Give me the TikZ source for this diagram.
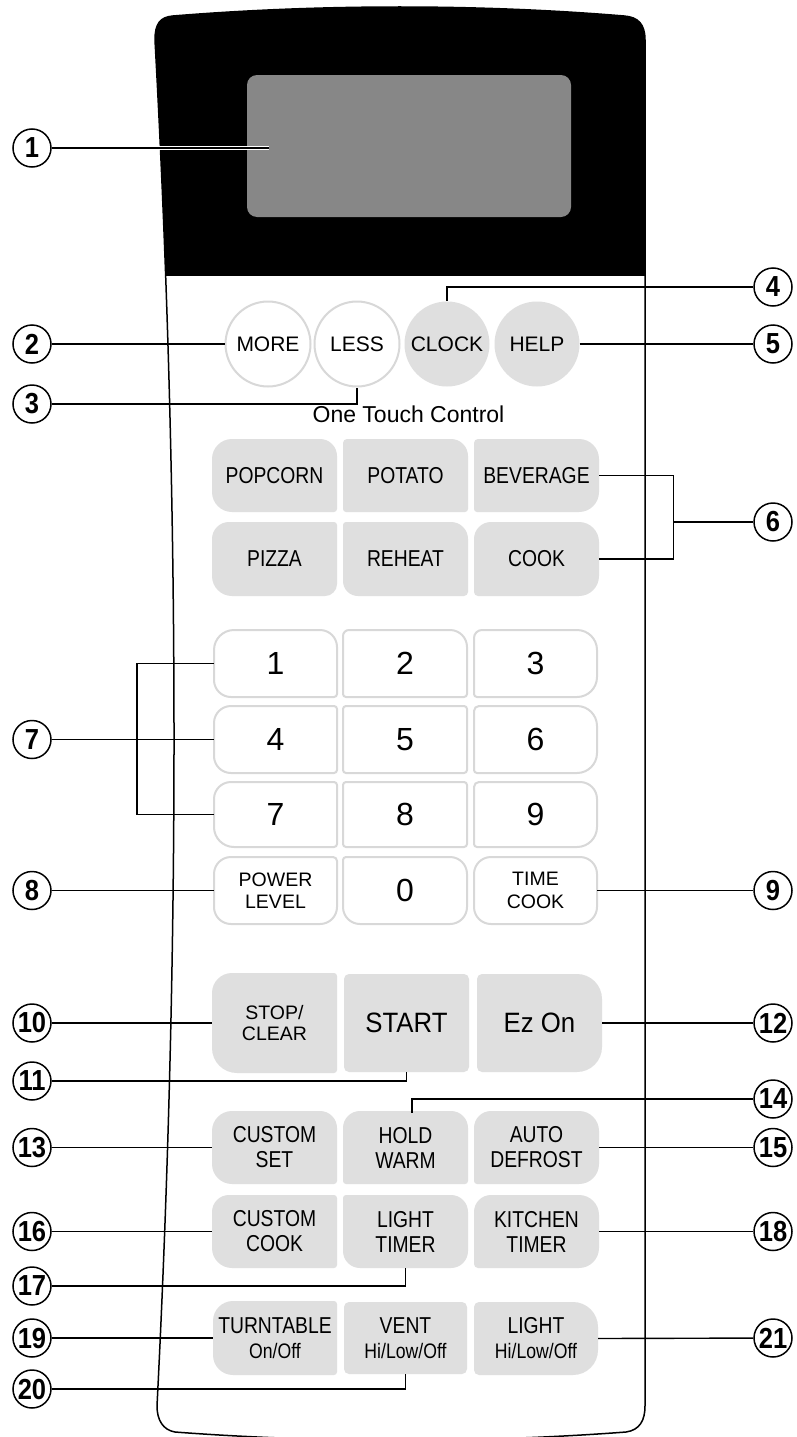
\documentclass[tikz,border=0pt]{standalone}
\usepackage{fontspec}
\setmainfont{Liberation Sans}
\newfontfamily\fN{Liberation Sans}
\newfontfamily\fC{Liberation Sans}[FakeStretch=0.84]
\newfontfamily\fD{Liberation Sans}[FakeStretch=0.92]
\newfontfamily\fB{Liberation Sans}[FakeStretch=0.88]
\definecolor{keygray}{HTML}{DFDFDF}
\definecolor{keyline}{HTML}{D8D8D8}
\definecolor{dispgray}{HTML}{878787}
\def\parseR#1,#2,#3,#4\relax{\def\rTL{#1}\def\rTR{#2}\def\rBR{#3}\def\rBL{#4}}
% #1 fill style, #2 name, #3 x1, #4 y1, #5 x2, #6 y2, #7 radii tl,tr,br,bl, #8 label style, #9 text
\newcommand\keybox[9]{%
  \parseR#7\relax
  \path[#1] (#3,{#4+\rTL}) .. controls (#3,{#4+0.448*\rTL}) and ({#3+0.448*\rTL},#4) .. ({#3+\rTL},#4)
   -- ({#5-\rTR},#4) .. controls ({#5-0.448*\rTR},#4) and (#5,{#4+0.448*\rTR}) .. (#5,{#4+\rTR})
   -- (#5,{#6-\rBR}) .. controls (#5,{#6-0.448*\rBR}) and ({#5-0.448*\rBR},#6) .. ({#5-\rBR},#6)
   -- ({#3+\rBL},#6) .. controls ({#3+0.448*\rBL},#6) and (#3,{#6-0.448*\rBL}) .. (#3,{#6-\rBL}) -- cycle;
  \node[#8, minimum width={(#5-#3)*1pt}, minimum height={(#6-#4)*1pt}] (#2) at ({(#3+#5)/2},{(#4+#6)/2}) {#9};
}
\newcommand\sm{\fontsize{21}{25}\selectfont}
\tikzset{
  graykey/.style={fill=keygray},
  whitekey/.style={fill=white, draw=keyline, line width=2pt},
  lblbase/.style={inner sep=0pt, align=center, text=black},
  lblC/.style={lblbase, font=\fC\fontsize{23}{25}\selectfont},
  lblN/.style={lblbase, font=\fN\fontsize{19.5}{22.5}\selectfont},
  lblS/.style={lblbase, font=\fN\fontsize{19.5}{21}\selectfont},
  lblD/.style={lblbase, font=\fN\fontsize{32}{32}\selectfont},
  lblB/.style={lblbase, font=\fD\fontsize{28}{28}\selectfont},
  rbtn/.style={circle, minimum size=85pt, inner sep=0pt, font=\fN\fontsize{21}{21}\selectfont},
  rbtnW/.style={rbtn, fill=white, draw=keyline, line width=2pt},
  rbtnG/.style={rbtn, fill=keygray},
  callout/.style={circle, draw=black, line width=1.5pt, fill=white, minimum size=38pt, inner sep=0pt,
    font=\fB\bfseries\fontsize{29}{29}\selectfont},
  lead/.style={draw=black, line width=1.4pt},
  panelline/.style={draw=black, line width=1.5pt},
}
\def\panelpath{(155,40) .. controls (155,24) and (160,17) .. (173,16)
  .. controls (320,4) and (480,4) .. (624,16)
  .. controls (638,17) and (645,24) .. (645,40)
  -- (645,1406) .. controls (645,1420) and (640,1430) .. (626,1432)
  .. controls (480,1443) and (320,1443) .. (175,1432)
  .. controls (163,1430) and (157,1420) .. (157,1406)
  .. controls (180,950) and (180,500) .. (155,40) -- cycle}
\begin{document}
\begin{tikzpicture}[x=1pt, y=-1pt]
\useasboundingbox (0,0) rectangle (796,1437);
\clip (0,0) rectangle (796,1437);
\fill[white] (0,0) rectangle (796,1437);
% panel body
\begin{scope}
  \clip \panelpath;
  \fill[white] (0,0) rectangle (796,1450);
  \fill[black] (0,0) rectangle (796,276);
\end{scope}
\path[panelline] \panelpath;
% display
\node[fill=dispgray, rounded corners=10pt, minimum width=324pt, minimum height=142pt, inner sep=0pt] (disp) at (409,146) {};
\coordinate (d1) at (269,148);
% round buttons
\node[rbtnW] (more) at (268,344) {MORE};
\node[rbtnW] (less) at (357,344) {LESS};
\node[rbtnG] (clock) at (447,344) {CLOCK};
\node[rbtnG] (help) at (537,344) {HELP};
\node[inner sep=0pt, font=\fN\fontsize{23}{23}\selectfont] (otc) at (408.5,414) {One Touch Control};
% one touch keys
\keybox{graykey}{pop}{212}{439}{337}{512}{20,17,3,20}{lblC}{POPCORN}
\keybox{graykey}{pot}{343}{439}{468}{512}{4,17,3,3}{lblC}{POTATO}
\keybox{graykey}{bev}{474}{439}{599}{512}{4,20,20,3}{lblC}{BEVERAGE}
\keybox{graykey}{piz}{212}{522}{337}{596}{17,3,12,20}{lblC}{PIZZA}
\keybox{graykey}{reh}{343}{522}{468}{596}{3,17,4,15}{lblC}{REHEAT}
\keybox{graykey}{cook}{474}{522}{599}{596}{17,20,20,4}{lblC}{COOK}
% number keys
\keybox{whitekey}{k1}{214}{630}{337}{697}{20,17,3,17}{lblD}{1}
\keybox{whitekey}{k2}{343}{630}{467}{697}{6,17,3,3}{lblD}{2}
\keybox{whitekey}{k3}{474}{630}{597}{697}{8,20,20,3}{lblD}{3}
\keybox{whitekey}{k4}{214}{706}{337}{773}{17,3,3,17}{lblD}{4}
\keybox{whitekey}{k5}{343}{706}{467}{773}{3,3,3,3}{lblD}{5}
\keybox{whitekey}{k6}{474}{706}{597}{773}{5,20,20,3}{lblD}{6}
\keybox{whitekey}{k7}{214}{782}{337}{847}{17,3,3,20}{lblD}{7}
\keybox{whitekey}{k8}{343}{782}{467}{847}{3,3,3,3}{lblD}{8}
\keybox{whitekey}{k9}{474}{782}{597}{847}{5,17,20,3}{lblD}{9}
\keybox{whitekey}{pl}{214}{857}{337}{924}{17,4,17,17}{lblN}{POWER\\LEVEL}
\keybox{whitekey}{k0}{343}{857}{467}{924}{3,17,17,17}{lblD}{0}
\keybox{whitekey}{tc}{474}{857}{597}{924}{17,17,17,17}{lblN}{TIME\\COOK}
% big keys
\keybox{graykey}{stop}{212}{973}{337}{1073}{20,3,3,25}{lblS}{STOP/\\CLEAR}
\keybox{graykey}{start}{344}{974}{469}{1072}{5,5,5,5}{lblB}{START}
\keybox{graykey}{ez}{477}{974}{602}{1072}{5,25,25,5}{lblB}{Ez On}
% lower keys
\keybox{graykey}{cset}{212}{1111}{337}{1184}{20,17,3,20}{lblC}{CUSTOM\\SET}
\keybox{graykey}{hold}{343}{1111}{468}{1184}{17,17,3,3}{lblC}{HOLD\\WARM}
\keybox{graykey}{adef}{474}{1111}{599}{1184}{17,20,20,3}{lblC}{AUTO\\DEFROST}
\keybox{graykey}{ccook}{212}{1195}{337}{1268}{17,3,3,20}{lblC}{CUSTOM\\COOK}
\keybox{graykey}{ltim}{343}{1195}{468}{1268}{3,17,17,17}{lblC}{LIGHT\\TIMER}
\keybox{graykey}{ktim}{474}{1195}{599}{1268}{17,20,20,4}{lblC}{KITCHEN\\TIMER}
\keybox{graykey}{turn}{213}{1301}{337}{1375}{20,3,3,20}{lblC}{TURNTABLE\\\sm On/Off}
\keybox{graykey}{vent}{344}{1302}{467}{1374}{5,5,5,5}{lblC}{VENT\\\sm Hi/Low/Off}
\keybox{graykey}{light}{474}{1302}{598}{1375}{5,25,25,5}{lblC}{LIGHT\\\sm Hi/Low/Off}
% callout circles
\node[callout] (n1) at (32,148) {1};
\node[callout] (n2) at (32,344) {2};
\node[callout] (n3) at (32,404) {3};
\node[callout] (n4) at (773,287) {4};
\node[callout] (n5) at (773,344) {5};
\node[callout] (n6) at (773,522) {6};
\node[callout] (n7) at (32,739.5) {7};
\node[callout] (n8) at (32,890.5) {8};
\node[callout] (n9) at (773,890.5) {9};
\node[callout] (n10) at (32,1023) {10};
\node[callout] (n11) at (32,1081) {11};
\node[callout] (n12) at (773,1023) {12};
\node[callout] (n13) at (32,1147.5) {13};
\node[callout] (n14) at (773,1099) {14};
\node[callout] (n15) at (773,1147.5) {15};
\node[callout] (n16) at (32,1231.5) {16};
\node[callout] (n17) at (32,1286) {17};
\node[callout] (n18) at (773,1231.5) {18};
\node[callout] (n19) at (32,1338) {19};
\node[callout] (n20) at (32,1389) {20};
\node[callout] (n21) at (773,1338) {21};
% helper coordinates
\coordinate (b6) at (673.5,522);
\coordinate (b7) at (137,739.5);
\coordinate (h14) at (412,1113);
% leaders
\draw[lead, preaction={draw=white, line width=3.6pt}] (n1) -- (d1);
\draw[lead] (n2) -- (more.west);
\draw[lead] (n3) -| (less.south);
\draw[lead] (n4) -| (clock.north);
\draw[lead] (help.east) -- (n5);
\draw[lead] (bev.east) -| (b6) |- (cook.east);
\draw[lead] (b6) -- (n6);
\draw[lead] (k1.west) -| (b7) |- (k7.west);
\draw[lead] (n7) -- (k4.west);
\draw[lead] (n8) -- (pl.west);
\draw[lead] (tc.east) -- (n9);
\draw[lead] (n10) -- (stop.west);
\draw[lead] (n11) -| (start.south);
\draw[lead] (ez.east) -- (n12);
\draw[lead] (n13) -- (cset.west);
\draw[lead] (n14) -| (h14);
\draw[lead] (adef.east) -- (n15);
\draw[lead] (n16) -- (ccook.west);
\draw[lead] (n17) -| (ltim.south);
\draw[lead] (ktim.east) -- (n18);
\draw[lead] (n19) -- (turn.west);
\draw[lead] (n20) -| (vent.south);
\draw[lead] (light.east) -- (n21);
\end{tikzpicture}
\end{document}
